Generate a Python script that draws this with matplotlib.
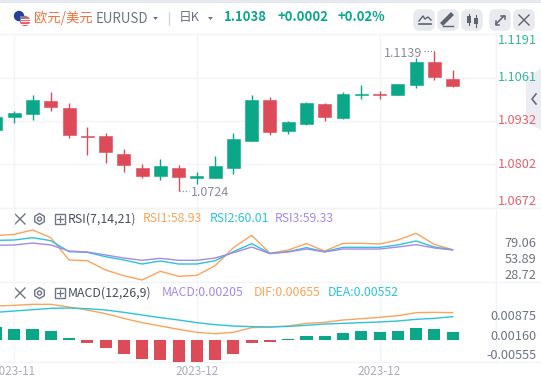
import numpy as np
import matplotlib
matplotlib.use('Agg')
import matplotlib.pyplot as plt
from matplotlib.patches import FancyBboxPatch, Polygon, Circle, Rectangle, RegularPolygon
from matplotlib.transforms import ScaledTranslation

plt.rcParams['font.family'] = ['Noto Sans CJK SC', 'DejaVu Sans']

# candles, oldest first
opens = [1.0904, 1.0943, 1.0952, 1.0990, 1.0969, 1.0886, 1.0886, 1.0833, 1.0792, 1.0768, 1.0792, 1.0762, 1.0762,
         1.0792, 1.0872, 1.0993, 1.0901, 1.0922, 1.0981, 1.0940, 1.1009, 1.1011, 1.1008, 1.1040, 1.1106, 1.1058]
highs = [1.0958, 1.0960, 1.1008, 1.1017, 1.0984, 1.0913, 1.0895, 1.0848, 1.0804, 1.0818, 1.0801, 1.0780, 1.0827,
         1.0895, 1.1008, 1.1002, 1.0931, 1.0987, 1.0984, 1.1017, 1.1040, 1.1020, 1.1043, 1.1120, 1.1139, 1.1085]
lows = [1.0895, 1.0925, 1.0934, 1.0960, 1.0881, 1.0830, 1.0807, 1.0780, 1.0762, 1.0756, 1.0724, 1.0744, 1.0762,
        1.0774, 1.0871, 1.0889, 1.0892, 1.0919, 1.0931, 1.0937, 1.0996, 1.0996, 1.1008, 1.1029, 1.1055, 1.1034]
closes = [1.0944, 1.0955, 1.0993, 1.0972, 1.0889, 1.0884, 1.0839, 1.0801, 1.0768, 1.0798, 1.0765, 1.0767, 1.0798,
          1.0878, 1.0993, 1.0898, 1.0928, 1.0984, 1.0943, 1.1013, 1.1011, 1.1009, 1.1043, 1.1106, 1.1064, 1.1037]

rsi1 = [88.6, 90.6, 97.5, 85.4, 50.3, 49.2, 34.6, 25.6, 18.8, 32.5, 24.6, 26.2, 41.4,
        69.7, 89.1, 60.8, 66.0, 76.0, 64.4, 76.5, 76.5, 75.5, 81.7, 92.2, 74.9, 66.5]
rsi2 = [81.2, 81.7, 85.4, 80.7, 63.4, 62.3, 55.5, 50.3, 44.0, 48.7, 44.0, 44.0, 49.2,
        63.4, 76.0, 60.8, 63.4, 69.7, 63.4, 70.2, 70.2, 70.2, 73.9, 80.2, 70.7, 66.5]
rsi3 = [73.4, 73.9, 77.0, 73.9, 64.4, 62.9, 58.2, 53.4, 49.8, 52.9, 49.8, 49.8, 53.4,
        61.8, 70.7, 60.2, 62.9, 67.6, 62.9, 67.6, 67.6, 67.6, 70.7, 74.4, 69.2, 66.0]

macd_bars = [.0047, .0041, .0041, .00335, .00074, -.0011, -.0030, -.0052, -.0071, -.0074, -.0082, -.0082, -.0074,
             -.0052, -.0011, -.0007, .0003, .0015, .0015, .0026, .0033, .0030, .0033, .0045, .0041, .0030]
dif = [.01265, .0129, .01327, .01327, .01228, .01116, .0098, .00806, .00645, .00521, .00397, .00285, .00236,
       .00285, .00459, .00484, .00521, .0062, .00657, .00744, .00794, .00843, .00905, .01017, .01029, .01017]
dea = [.01029, .01079, .01128, .01178, .0119, .01166, .01116, .01029, .0093, .00831, .00744, .00645, .0057,
       .00521, .00496, .00484, .00508, .00546, .00595, .0062, .00645, .0067, .00707, .00769, .00806, .00868]

price_ticks = [1.1191, 1.1061, 1.0932, 1.0802, 1.0672]
rsi_ticks = [79.06, 53.89, 28.72]
macd_ticks = [0.00875, 0.00160, -0.00555]
date_idx = [1, 11, 21]
date_labels = ['2023-11', '2023-12', '2023-12']

GREEN = '#0aa889'
RED = '#dd4b58'
GRID = '#f3f4f8'
ORANGE = '#fba45c'
CYAN = '#2cc3dc'
PURPLE = '#a78ae6'
GRAY = '#6f7484'
DARK = '#4b4f5c'

W, H = 541, 384
fig = plt.figure(figsize=(W / 100, H / 100), dpi=100, facecolor='white')

# page chrome, in pixels
bg = fig.add_axes([0, 0, 1, 1])
bg.set_xlim(0, W)
bg.set_ylim(H, 0)
bg.axis('off')
bg.add_patch(Rectangle((0, 0), W, 3, color='#e6e9ef', lw=0))
bg.plot([0, 495.5], [34, 34], color=GRID, lw=1)
bg.plot([495.5, 495.5], [34, 362], color=GRID, lw=1)
bg.plot([0, 541], [208, 208], color=GRID, lw=1)
bg.plot([0, 541], [282, 282], color=GRID, lw=1)
bg.plot([0, 541], [362, 362], color=GRID, lw=1)
bg.add_patch(Polygon([(526, 78), (541, 68), (541, 130), (526, 122)], color='#ecedf2', lw=0))
bg.plot([536, 532, 536], [94, 99, 104], color='#666a78', lw=1.2)

# flag
bg.add_patch(Circle((19, 16), 5.2, color='#24409a', lw=0))
bg.add_patch(Circle((25, 21), 5.2, color='#e8606a', lw=0))
for yy in [18.5, 21, 23.5]:
    bg.plot([20.5, 29.5], [yy, yy], color='white', lw=0.7)
bg.add_patch(Rectangle((20, 16), 4.5, 3.5, color='#7a7f9c', lw=0))

bg.text(34, 18, '欧元/美元', color='#f4703f', fontsize=9.6, va='center')
bg.text(96, 19, 'EURUSD', color=GRAY, fontsize=9.6, va='center')
bg.add_patch(Polygon([(153, 17), (158, 17), (155.5, 20)], color=GRAY, lw=0))
bg.plot([169, 169], [12, 25], color='#d5d8df', lw=1)
bg.text(179, 17, '日K', color=GRAY, fontsize=9.2, va='center')
bg.add_patch(Polygon([(208, 17), (213, 17), (210.5, 20)], color=GRAY, lw=0))
bg.text(224, 17, '1.1038', color=GREEN, fontsize=9.4, fontweight='bold', va='center')
bg.text(277, 17, '+0.0002', color=GREEN, fontsize=9.4, fontweight='bold', va='center')
bg.text(338, 17, '+0.02%', color=GREEN, fontsize=9.4, fontweight='bold', va='center')

# toolbar buttons
for bx in [414, 438, 462, 490, 514]:
    bg.add_patch(FancyBboxPatch((bx + 2, 12), 16, 16, boxstyle='round,pad=0,rounding_size=3',
                                mutation_aspect=1, fc='#e8eaf0', ec='#e8eaf0', lw=4))
bg.plot([419, 423, 425, 428, 431], [21, 16, 19, 17, 20], color='#5f6370', lw=1)
bg.plot([419, 431], [24, 24], color='#5f6370', lw=1.2)
bg.plot([443, 451], [23, 15], color='#5f6370', lw=3)
bg.plot([443, 453], [25.5, 25.5], color='#5f6370', lw=1)
bg.add_patch(Rectangle((467, 16), 4, 7, color='#5f6370', lw=0))
bg.add_patch(Rectangle((474, 18), 4, 6, color='#5f6370', lw=0))
bg.plot([469, 469], [14, 25], color='#5f6370', lw=0.8)
bg.plot([476, 476], [15, 27], color='#5f6370', lw=0.8)
bg.plot([496, 504], [24, 16], color='#5f6370', lw=1.1)
bg.plot([501, 504.5, 504.5], [15.5, 15.5, 19], color='#5f6370', lw=1.1)
bg.plot([495.5, 495.5, 499], [21, 24.5, 24.5], color='#5f6370', lw=1.1)
bg.plot([519, 529], [15, 25], color='#5f6370', lw=1)
bg.plot([519, 529], [25, 15], color='#5f6370', lw=1)


def pane_icons(y):
    bg.plot([15, 25], [y - 5, y + 5], color=GRAY, lw=1)
    bg.plot([15, 25], [y + 5, y - 5], color=GRAY, lw=1)
    bg.add_patch(RegularPolygon((39.5, y), 6, radius=5.5, fill=False, ec=GRAY, lw=1))
    bg.add_patch(Circle((39.5, y), 2, fill=False, ec=GRAY, lw=1))
    bg.add_patch(Rectangle((54.5, y - 5), 10, 10, fill=False, ec=GRAY, lw=1))
    bg.plot([56.5, 62.5], [y, y], color=GRAY, lw=0.9)
    bg.plot([59.5, 59.5], [y - 3, y + 3], color=GRAY, lw=0.9)


pane_icons(219)
pane_icons(293)

# legends sit above the panes so the grid doesn't cross them
fg = fig.add_axes([0, 0, 1, 1], zorder=5)
fg.set_xlim(0, W)
fg.set_ylim(H, 0)
fg.axis('off')
fg.text(68, 219, 'RSI(7,14,21)', color=DARK, fontsize=8.9, va='center')
fg.text(143, 219, 'RSI1:58.93', color=ORANGE, fontsize=8.8, va='center')
fg.text(210, 219, 'RSI2:60.01', color=CYAN, fontsize=8.8, va='center')
fg.text(275, 219, 'RSI3:59.33', color=PURPLE, fontsize=8.8, va='center')
fg.text(68, 293, 'MACD(12,26,9)', color=DARK, fontsize=8.9, va='center')
fg.text(162, 293, 'MACD:0.00205', color=PURPLE, fontsize=8.9, va='center')
fg.text(254, 293, 'DIF:0.00655', color=ORANGE, fontsize=8.9, va='center')
fg.text(328, 293, 'DEA:0.00552', color=CYAN, fontsize=8.9, va='center')

# x range shared by the three panes
xlim = (0.219, 27.35)
idx = np.arange(len(opens))


def add_pane(top, bottom):
    ax = fig.add_axes([0, 1 - bottom / H, 495.5 / W, (bottom - top) / H])
    ax.patch.set_visible(False)
    for s in ax.spines.values():
        s.set_visible(False)
    ax.set_xlim(*xlim)
    ax.set_xticks(date_idx)
    ax.grid(True, axis='x', color=GRID, lw=1)
    ax.set_axisbelow(True)
    ax.yaxis.tick_right()
    ax.tick_params(axis='both', length=0, labelbottom=False)
    return ax


# price pane
ax1 = add_pane(34, 208)
ax1.set_ylim(1.0672, 1.1191)
ax1.set_yticks(price_ticks)
ax1.set_yticklabels(['%.4f' % p for p in price_ticks], fontsize=9.2)
ax1.tick_params(axis='y', pad=29.5)
ax1.grid(True, axis='y', color=GRID, lw=1)
for lab, col, va in zip(ax1.get_yticklabels(),
                        ['#33b79b', '#33b79b', '#e4616d', '#e4616d', '#e4616d'],
                        ['top', 'center', 'center', 'center', 'bottom']):
    lab.set_color(col)
    lab.set_ha('right')
    lab.set_va(va)

colors = [GREEN if c >= o else RED for o, c in zip(opens, closes)]
ax1.vlines(idx, lows, highs, colors=colors, lw=1, zorder=3)
bottoms = np.minimum(opens, closes)
heights = np.abs(np.array(closes) - np.array(opens))
ax1.bar(idx, heights, bottom=bottoms, width=0.71, color=colors, edgecolor=colors, lw=0.4, zorder=4)

# high and low markers
ax1.plot([23.45, 24], [1.1139, 1.1139], color='#8a8d99', lw=0.9, ls=(0, (1, 1.5)), zorder=2)
ax1.text(23.35, 1.1134, '1.1139', color='#8a8d99', fontsize=9, ha='right', va='center')
ax1.plot([10, 10.55], [1.0724, 1.0724], color='#8a8d99', lw=0.9, ls=(0, (1, 1.5)), zorder=2)
ax1.text(10.65, 1.0717, '1.0724', color='#8a8d99', fontsize=9, ha='left', va='center')

# RSI pane
ax2 = add_pane(208, 282)
ax2.set_ylim(15.68, 132.07)
ax2.set_yticks(rsi_ticks)
ax2.set_yticklabels(['%.2f' % v for v in rsi_ticks], fontsize=9.2, color=GRAY)
ax2.tick_params(axis='y', pad=29.5)
for lab in ax2.get_yticklabels():
    lab.set_ha('right')
ax2.plot(idx, rsi1, color=ORANGE, lw=1)
ax2.plot(idx, rsi2, color=CYAN, lw=1)
ax2.plot(idx, rsi3, color=PURPLE, lw=1)

# MACD pane
ax3 = add_pane(282, 362)
ax3.set_ylim(-.00818, .02158)
ax3.set_yticks(macd_ticks)
ax3.set_yticklabels(['%.5f' % v for v in macd_ticks], fontsize=9.2, color=GRAY)
ax3.tick_params(axis='y', pad=29.5)
up_1px = ScaledTranslation(0, 1 / 100, fig.dpi_scale_trans)
for lab in ax3.get_yticklabels():
    lab.set_ha('right')
    lab.set_transform(lab.get_transform() + up_1px)
ax3.bar(idx, macd_bars, width=0.66, color=[GREEN if v >= 0 else RED for v in macd_bars], lw=0, zorder=3)
ax3.plot(idx, dif, color=ORANGE, lw=1, zorder=4)
ax3.plot(idx, dea, color=CYAN, lw=1, zorder=4)
ax3.tick_params(axis='x', labelbottom=True, labelsize=8.4, labelcolor='#a9acbb', pad=2.5)
ax3.set_xticklabels(date_labels)

fig.savefig('out.png', dpi=100)
